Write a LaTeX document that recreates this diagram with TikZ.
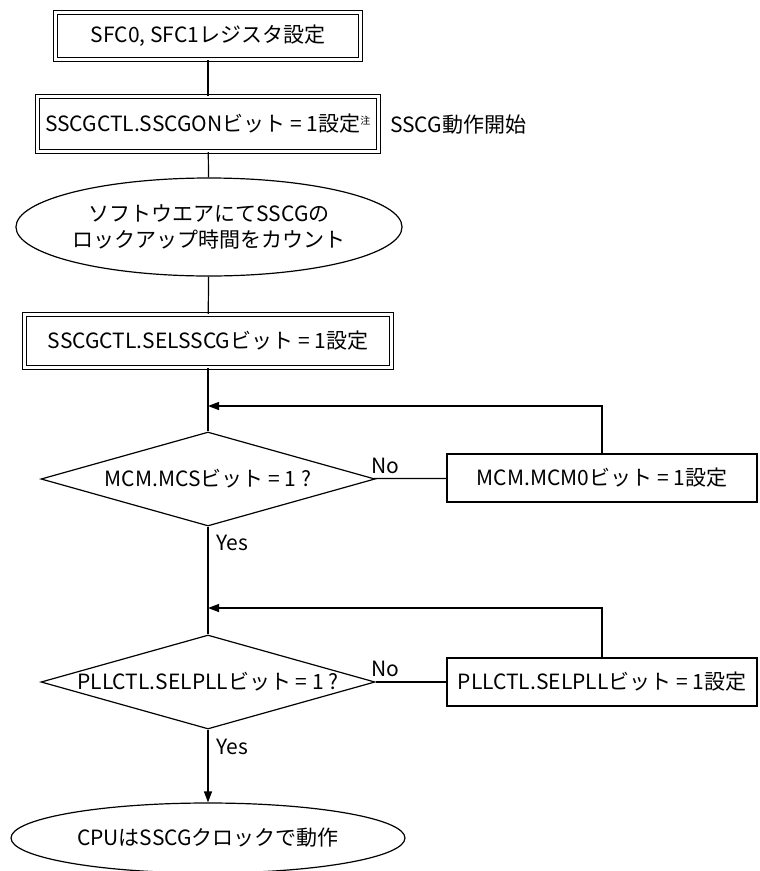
\documentclass[tikz,border=0pt]{standalone}
\usepackage{fontspec}
\setmainfont{Noto Sans CJK JP}
\usetikzlibrary{shapes.geometric,arrows.meta}
\begin{document}
\begin{tikzpicture}[x=1pt,y=-1pt,
  every node/.style={font=\fontsize{21}{26}\selectfont, inner sep=0pt, align=center},
  conn/.style={line width=1.2pt},
  arr/.style={conn,-{Triangle[length=11pt,width=8pt]}},
  dbox/.style={draw, line width=1.3pt, double=white, double distance=2.6pt},
  sbox/.style={draw, line width=1.2pt, minimum width=310pt, minimum height=48pt},
  oval/.style={draw, ellipse, line width=1.2pt},
  dia/.style={draw, diamond, line width=1.2pt, minimum width=334pt, minimum height=94pt, aspect=3.55}
]
\path[use as bounding box] (0,0) rectangle (760,871);

\node[dbox, minimum width=305pt, minimum height=47pt] (b1) at (208,36) {SFC0, SFC1レジスタ設定};
\node[dbox, minimum width=341pt, minimum height=55pt] (b2) at (208,124) {SSCGCTL.SSCGONビット = 1設定\textsuperscript{\fontsize{10}{10}\selectfont 注}};
\node[anchor=west] (t2) at (390,125) {SSCG動作開始};
\node[oval, minimum width=338pt, minimum height=98pt] (e1) at (209,227) {ソフトウエアにてSSCGの\\ロックアップ時間をカウント};
\node[dbox, minimum width=367pt, minimum height=53pt] (b3) at (208,341) {SSCGCTL.SELSSCGビット = 1設定};

\node[dia] (d1) at (208,479) {};
\node (d1t) at (d1.center) {MCM.MCSビット = 1 ?};
\node[sbox] (b4) at (602,478) {MCM.MCM0ビット = 1設定};

\node[dia] (d2) at (208,682) {};
\node (d2t) at (d2.center) {PLLCTL.SELPLLビット = 1 ?};
\node[sbox] (b5) at (602,682) {PLLCTL.SELPLLビット = 1設定};

\node[oval, minimum width=394pt, minimum height=70pt] (e2) at (208,838) {CPUはSSCGクロックで動作};

\coordinate (m1) at (208,406);
\coordinate (m2) at (208,608);

\draw[conn] (b1) -- (b2);
\draw[conn] (b2) -- (e1);
\draw[conn] (e1) -- (b3);
\draw[conn] (b3) -- (d1);
\draw[conn] (d1) -- (b4);
\draw[arr] (b4.north) |- (m1);
\draw[conn] (d1) -- (d2);
\draw[conn] (d2) -- (b5);
\draw[arr] (b5.north) |- (m2);
\draw[arr] (d2) -- (e2);

\node[anchor=south] (no1) at (385,474) {No};
\node[anchor=west] (yes1) at (216,543) {Yes};
\node[anchor=south] (no2) at (385,677) {No};
\node[anchor=west] (yes2) at (216,747) {Yes};
\end{tikzpicture}
\end{document}
